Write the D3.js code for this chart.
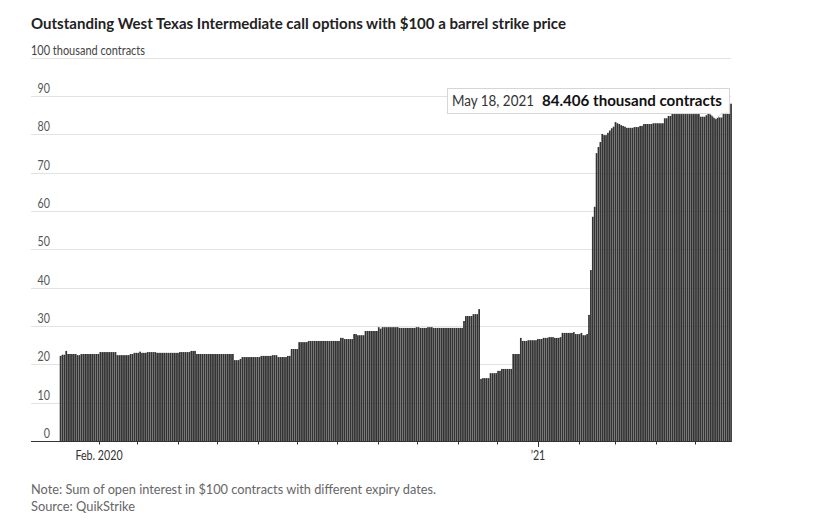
<!DOCTYPE html>
<html><head><meta charset="utf-8">
<script src="https://cdn.jsdelivr.net/npm/d3@7"></script>
<style>
body{margin:0;background:#fff;}
svg text{font-family:Lato,"Open Sans","Liberation Sans",sans-serif;}
</style></head><body>
<svg id="c" width="818" height="528"></svg>
<script>
// ---------- DATA ----------
const titleText = "Outstanding West Texas Intermediate call options with $100 a barrel strike price";
const unitText = "100 thousand contracts";
const noteText = "Note: Sum of open interest in $100 contracts with different expiry dates.";
const sourceText = "Source: QuikStrike";

const startDate = new Date(2020, 0, 2);
const endDate = new Date(2021, 4, 28);
const holidays = ["2020-01-20","2020-02-17","2020-04-10","2020-05-25","2020-07-03","2020-09-07","2020-11-26","2020-12-25","2021-01-01","2021-01-18","2021-02-15","2021-04-02"];

// open interest, thousand contracts, one per trading day
const values = [
22.2,22.5,22.5,23.5,22.7,22.7,22.7,22.7,22.7,22.4,
22.4,22.7,22.7,22.7,22.7,22.7,22.7,22.7,22.7,22.7,
22.7,23.2,23.2,23.2,23.2,23.2,23.2,23.2,23.2,23.2,
22.4,22.4,22.4,22.4,22.4,22.4,22.4,22.7,22.7,23.0,
23.0,23.0,23.3,23.0,23.0,23.0,23.2,23.2,23.2,23.2,
23.2,23.0,23.0,23.0,23.0,23.0,23.0,23.0,23.0,23.0,
23.0,23.0,23.0,23.2,23.2,23.2,23.2,23.2,23.2,23.5,
23.5,23.5,22.7,22.7,22.7,22.7,22.7,22.7,22.7,22.7,
22.7,22.7,22.7,22.7,22.7,22.7,22.7,22.7,22.7,22.7,
22.7,22.7,21.1,21.1,21.1,21.4,21.9,21.9,21.9,21.9,
21.9,21.9,21.9,21.9,21.9,21.9,22.2,22.2,22.2,22.2,
22.2,22.2,22.4,22.4,22.4,21.9,21.9,21.9,21.9,21.9,
22.2,22.2,24.0,24.0,24.0,24.0,25.8,25.8,25.8,25.8,
25.8,26.1,26.1,26.1,26.1,26.1,26.1,26.1,26.1,26.1,
26.1,26.1,26.1,26.1,26.1,26.1,26.1,26.1,26.9,26.9,
26.6,26.6,26.6,26.6,26.6,27.9,27.9,27.6,27.6,27.6,
27.6,28.7,28.7,28.7,28.7,28.7,28.7,28.7,29.7,29.3,
29.7,29.7,29.7,29.7,29.7,29.7,29.7,29.7,29.7,29.5,
29.5,29.5,29.5,29.5,29.5,29.5,29.5,29.5,29.7,29.7,
29.5,29.5,29.5,29.5,29.7,29.7,29.7,29.5,29.5,29.5,
29.5,29.5,29.5,29.5,29.5,29.5,29.5,29.5,29.5,29.5,
29.5,29.5,29.5,31.3,32.6,32.6,32.6,32.6,33.1,33.1,
33.1,34.4,16.2,16.4,16.4,16.4,16.4,17.7,17.7,17.7,
17.7,18.3,18.3,18.8,18.8,18.8,18.8,18.8,18.8,22.7,
22.7,22.7,22.7,26.9,26.1,26.1,26.1,26.3,26.3,26.3,
26.3,26.3,26.6,26.6,26.6,26.9,26.9,26.9,27.1,27.1,
27.1,26.9,26.9,26.9,27.1,28.2,28.2,28.2,28.2,28.2,
28.2,28.4,27.9,27.9,27.9,28.2,27.6,27.6,27.9,32.9,
44.6,58.5,61.1,75.1,76.7,78.0,80.1,79.8,79.8,80.4,
81.0,81.6,82.0,83.2,82.9,82.7,82.4,82.2,82.0,81.7,
81.7,81.7,81.7,81.9,81.9,81.9,82.2,82.2,82.7,82.7,
82.7,82.7,82.7,82.9,82.9,82.9,82.9,82.9,82.9,84.2,
84.2,84.8,84.8,85.3,85.3,85.3,85.3,85.3,85.3,85.3,
85.3,85.3,85.3,85.3,85.3,85.3,85.3,85.3,84.6,84.6,
84.6,85.0,85.3,85.3,85.0,84.4,84.406,85.0,84.4,84.4,
85.9,85.9,85.9,88.0,88.0
];

const yTicks = [0,10,20,30,40,50,60,70,80,90];
const yTop = 100;
const xTickLabels = [
  {date: new Date(2020, 1, 1), label: "Feb. 2020"},
  {date: new Date(2021, 0, 1), label: "\u201921"}
];
const tooltipDate = new Date(2021, 4, 18);
const tooltipDateText = "May 18, 2021";
const tooltipValueText = "84.406 thousand contracts";

// ---------- BUILD ----------
const fmt = d3.timeFormat("%Y-%m-%d");
const holi = new Set(holidays);
const dates = d3.timeDay.range(startDate, d3.timeDay.offset(endDate, 1))
  .filter(d => d.getDay() !== 0 && d.getDay() !== 6 && !holi.has(fmt(d)));
const n = Math.min(dates.length, values.length);
const data = d3.range(n).map(i => ({date: dates[i], value: values[i]}));

const svg = d3.select("#c");
const X0 = 59.7, X1 = 731.9, AX0 = 31;
const x = d3.scaleTime().domain([startDate, d3.timeDay.offset(endDate, 1)]).range([X0, X1]);
const xb = d3.scaleBand().domain(data.map(d => +d.date)).range([X0, X1]).paddingInner(0.1).paddingOuter(0);
const y = d3.scaleLinear().domain([0, 100]).range([441, 57.7]);

// squeeze text horizontally to a target width (emulates the condensed face)
function fitW(sel, w) {
  sel.attr("textLength", w).attr("lengthAdjust", "spacingAndGlyphs");
}
function squeeze(sel, f) {
  sel.each(function () {
    const w = this.getComputedTextLength();
    d3.select(this).attr("textLength", (w * f).toFixed(2)).attr("lengthAdjust", "spacingAndGlyphs");
  });
}

// gridlines
svg.append("g").selectAll("line").data(yTicks.filter(t => t > 0).concat([yTop])).join("line")
  .attr("x1", AX0).attr("x2", X1 - 1).attr("y1", d => Math.round(y(d)) + 0.5).attr("y2", d => Math.round(y(d)) + 0.5)
  .attr("stroke", "#e2e2e2").attr("stroke-width", 1);

// bars
svg.append("g").selectAll("rect").data(data).join("rect")
  .attr("x", d => xb(+d.date)).attr("width", xb.bandwidth())
  .attr("y", d => y(d.value)).attr("height", d => y(0) - y(d.value))
  .attr("fill", "#333");

// y labels
const yl = svg.append("g").selectAll("text").data(yTicks).join("text")
  .attr("x", 50).attr("y", d => y(d) - 3).attr("text-anchor", "end")
  .attr("font-size", 13).attr("fill", "#555").text(d => d);
squeeze(yl, 0.82);

// axis
const gx = svg.append("g");
gx.append("line").attr("x1", AX0).attr("x2", X1).attr("y1", 441.5).attr("y2", 441.5).attr("stroke", "#333");
const months = d3.timeMonth.range(new Date(2020, 1, 1), new Date(2021, 5, 1));
gx.selectAll(".tk").data(months).join("line").attr("class", "tk")
  .attr("x1", d => Math.round(x(d)) + 0.5).attr("x2", d => Math.round(x(d)) + 0.5)
  .attr("y1", 442).attr("y2", d => d.getMonth() === 0 ? 447 : 444.5)
  .attr("stroke", "#333");
const xl = gx.selectAll(".xl").data(xTickLabels).join("text").attr("class", "xl")
  .attr("x", d => x(d.date)).attr("y", 460).attr("text-anchor", "middle")
  .attr("font-size", 13).attr("fill", "#333").text(d => d.label);
squeeze(xl, 0.82);

// title etc.
const t = svg.append("text").attr("x", 31).attr("y", 29).attr("font-size", 15.5).attr("font-weight", "bold").attr("fill", "#222").text(titleText);
fitW(t, 535);
const u = svg.append("text").attr("x", 31).attr("y", 54.5).attr("font-size", 12.5).attr("fill", "#444").text(unitText);
fitW(u, 114);
const nt = svg.append("text").attr("x", 31).attr("y", 494).attr("font-size", 13).attr("fill", "#666").text(noteText);
fitW(nt, 405);
const st = svg.append("text").attr("x", 31).attr("y", 511).attr("font-size", 13).attr("fill", "#666").text(sourceText);
fitW(st, 104);

// tooltip
const hov = data.find(d => +d.date === +tooltipDate);
const px = xb(+hov.date) + xb.bandwidth() / 2;
const tg = svg.append("g");
const boxR = 729, boxT = 88, boxB = 113, boxL = 447;
tg.append("rect").attr("x", boxL + 0.5).attr("y", boxT + 0.5).attr("width", boxR - boxL).attr("height", boxB - boxT)
  .attr("fill", "#fff").attr("fill-opacity", 0.95).attr("stroke", "#d6d6d6");
tg.append("path").attr("d", `M${px - 6},${boxB + 0.5} L${px},${boxB + 6} L${px + 6},${boxB + 0.5}`)
  .attr("fill", "#fff").attr("stroke", "#d6d6d6");
tg.append("line").attr("x1", px - 5).attr("x2", px + 5).attr("y1", boxB + 0.5).attr("y2", boxB + 0.5).attr("stroke", "#fff").attr("stroke-width", 1.2);
const td = tg.append("text").attr("x", 452).attr("y", 106).attr("font-size", 15.5).attr("fill", "#333").text(tooltipDateText);
fitW(td, 82);
const tv = tg.append("text").attr("x", 542).attr("y", 106).attr("font-size", 15.5).attr("font-weight", "bold").attr("fill", "#111").text(tooltipValueText);
fitW(tv, 180);
</script>
</body></html>
